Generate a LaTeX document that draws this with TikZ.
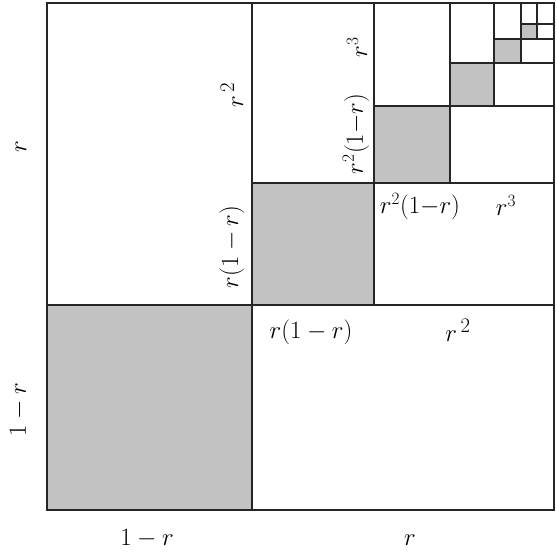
\documentclass[tikz,border=0pt]{standalone}
\begin{document}
\begin{tikzpicture}[x=1pt,y=-1pt,
  edge/.style={line width=1.8pt,draw=black!85},
  shade/.style={fill=black!24},
  big/.style={font=\fontsize{31}{34}\selectfont,inner sep=0pt},
  small/.style={font=\fontsize{25}{28}\selectfont,inner sep=0pt}]
\useasboundingbox (0,0) rectangle (557,558);
% shaded squares
\fill[shade] (47,305) rectangle (252,510);
\fill[shade] (252,183) rectangle (374,305);
\fill[shade] (374,106) rectangle (450,183);
\fill[shade] (450,63) rectangle (494,106);
\fill[shade] (494,39) rectangle (521,63);
\fill[shade] (521,24) rectangle (537,39);
% outer square
\draw[edge] (47,3) rectangle (554,510);
% level 0
\draw[edge] (252,3) -- (252,510);
\draw[edge] (47,305) -- (554,305);
% level 1
\draw[edge] (374,3) -- (374,305);
\draw[edge] (252,183) -- (554,183);
% level 2
\draw[edge] (450,3) -- (450,183);
\draw[edge] (374,106) -- (554,106);
% level 3
\draw[edge] (494,3) -- (494,106);
\draw[edge] (450,63) -- (554,63);
% level 4
\draw[edge] (521,3) -- (521,63);
\draw[edge] (494,39) -- (554,39);
% level 5
\draw[edge] (537,3) -- (537,39);
\draw[edge] (521,24) -- (554,24);
% outer labels
\node[big,rotate=90] (lr) at (21,147) {$r$};
\node[big,rotate=90] (l1r) at (19,410) {$1-r$};
\node[big] (b1r) at (147,539) {$1-r$};
\node[big] (br) at (410,540) {$r$};
% level 0 labels
\node[big,rotate=90] (a1) at (232,95) {$r^{\,2}$};
\node[big,rotate=90] (a2) at (232,247) {$r(1-r)$};
\node[big] (a3) at (311,332) {$r(1-r)$};
\node[big] (a4) at (458,330) {$r^{\,2}$};
% level 1 labels
\node[small,rotate=90] (c1) at (357,47) {$r^3$};
\node[small,rotate=90] (c2) at (356,134) {$r^2(1{-}r)$};
\node[small] (c3) at (420,207) {$r^2(1{-}r)$};
\node[small] (c4) at (506,205) {$r^3$};
\end{tikzpicture}
\end{document}
